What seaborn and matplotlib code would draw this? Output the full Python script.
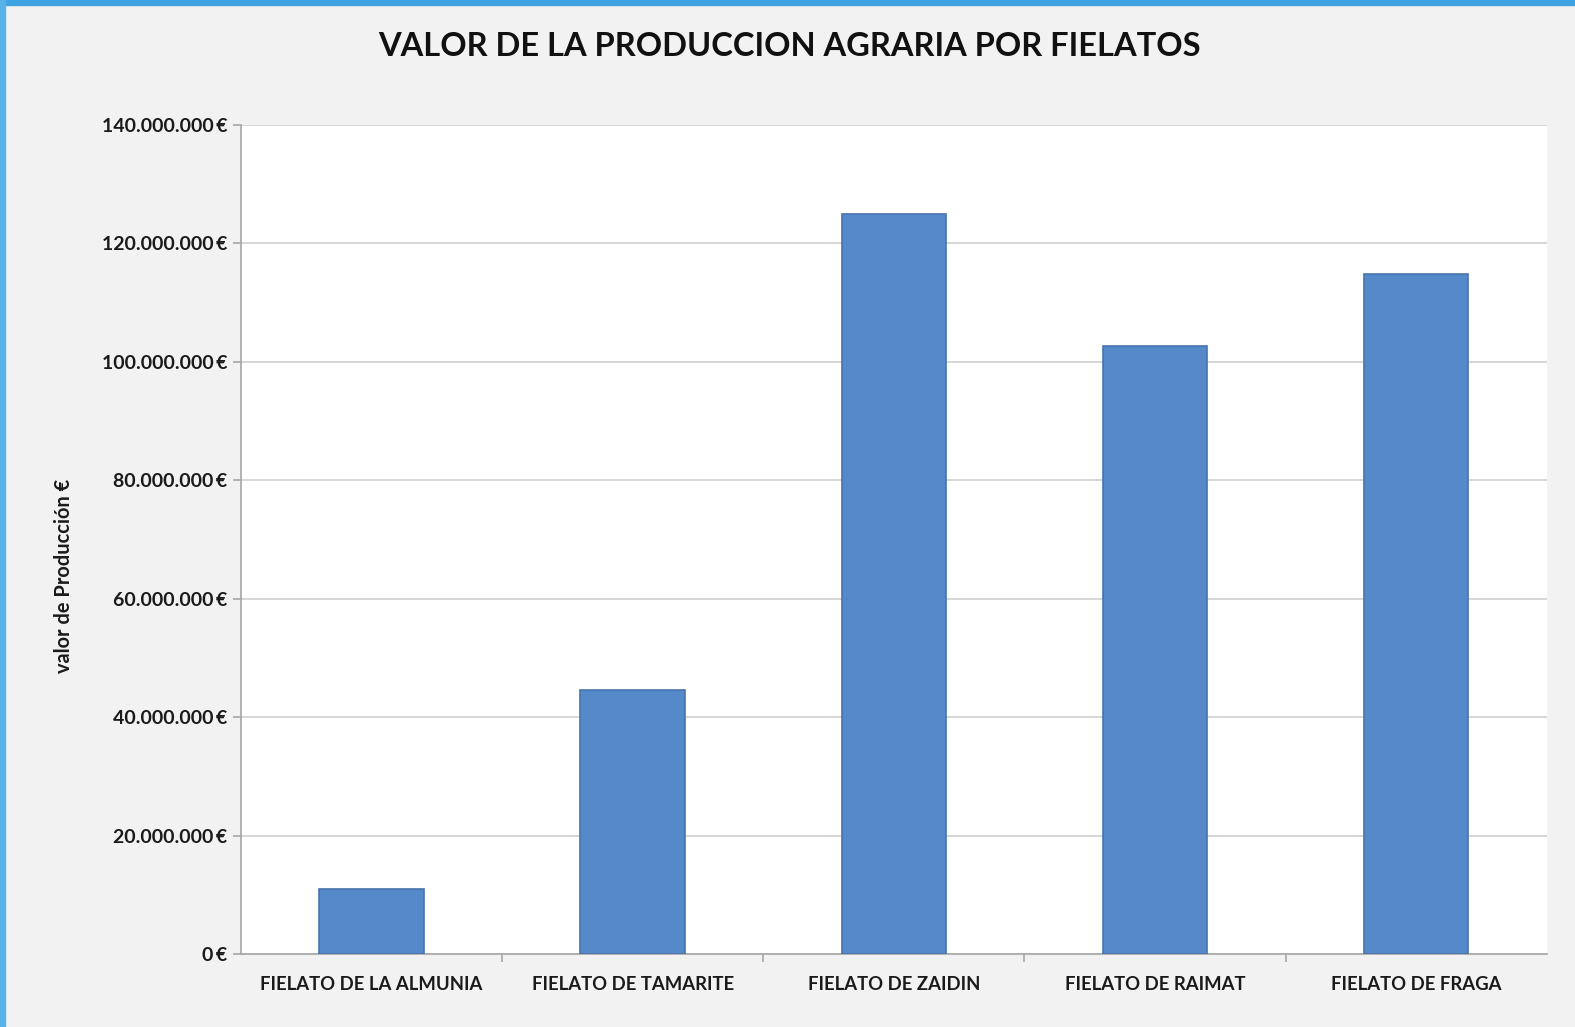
import matplotlib
matplotlib.use("Agg")
import matplotlib.pyplot as plt
import seaborn as sns
import pandas as pd
from matplotlib.ticker import FuncFormatter, MultipleLocator, FixedLocator
from matplotlib.patches import Rectangle

categories = ["FIELATO DE LA ALMUNIA", "FIELATO DE TAMARITE", "FIELATO DE ZAIDIN",
              "FIELATO DE RAIMAT", "FIELATO DE FRAGA"]
values = [11000000, 44600000, 125000000, 102700000, 114900000]

title = "VALOR DE LA PRODUCCION AGRARIA POR FIELATOS"
ylabel = "valor de Producción €"

df = pd.DataFrame({"fielato": categories, "valor": values})

sns.set_theme(style="white")
plt.rcParams['font.family'] = ['Lato', 'DejaVu Sans']

fig = plt.figure(figsize=(15.75, 10.27), dpi=100)
fig.patch.set_facecolor("#f2f2f2")
ax = fig.add_axes([0.153, 0.0711, 0.829, 0.8072])
ax.set_facecolor("white")

sns.barplot(data=df, x="fielato", y="valor", ax=ax, color="#5589c9",
            width=0.40, saturation=1, edgecolor="#4674ad", linewidth=1.2, zorder=3)

ax.set_ylim(0, 140000000)
ax.yaxis.set_major_locator(MultipleLocator(20000000))
ax.yaxis.set_major_formatter(FuncFormatter(
    lambda v, p: f"{int(round(v)):,}".replace(",", ".") + "\u2009€"))
ax.grid(axis="y", color="#d0d0d0", linewidth=1.2, zorder=0)
ax.grid(axis="x", visible=False)
ax.set_xlim(-0.5, len(categories) - 0.5)

for s in ["top", "right"]:
    ax.spines[s].set_visible(False)
for s in ["left", "bottom"]:
    ax.spines[s].set_color("#a6a6a6")
    ax.spines[s].set_linewidth(1.2)

ax.tick_params(axis="y", which="major", left=True, length=6, width=1.2, color="#a6a6a6",
               labelsize=14, pad=4)
ax.tick_params(axis="x", which="major", bottom=False, labelsize=13.3, pad=10)
ax.xaxis.set_minor_locator(FixedLocator([i + 0.5 for i in range(len(categories) - 1)]))
ax.tick_params(axis="x", which="minor", bottom=True, length=6, width=1.2, color="#a6a6a6")
for lbl in ax.get_yticklabels() + ax.get_xticklabels():
    lbl.set_fontweight("bold")
    lbl.set_color("#1a1a1a")

ax.set_xlabel("")
ax.set_ylabel(ylabel, fontsize=14.4, fontweight="bold", color="#1a1a1a")
ax.yaxis.set_label_coords(-0.128, 0.456)

fig.text(0.501, 0.955, title, ha="center", va="center", fontsize=23.5,
         fontweight="bold", color="#111111")

# window frame
fig.patches.append(Rectangle((0, 1 - 5 / 1027), 1, 5 / 1027, transform=fig.transFigure,
                             color="#3ea3e3", zorder=10))
fig.patches.append(Rectangle((0, 0), 5 / 1575, 1, transform=fig.transFigure,
                             color="#5ab2ea", zorder=10))

fig.savefig("out.png", dpi=100, facecolor=fig.get_facecolor())
